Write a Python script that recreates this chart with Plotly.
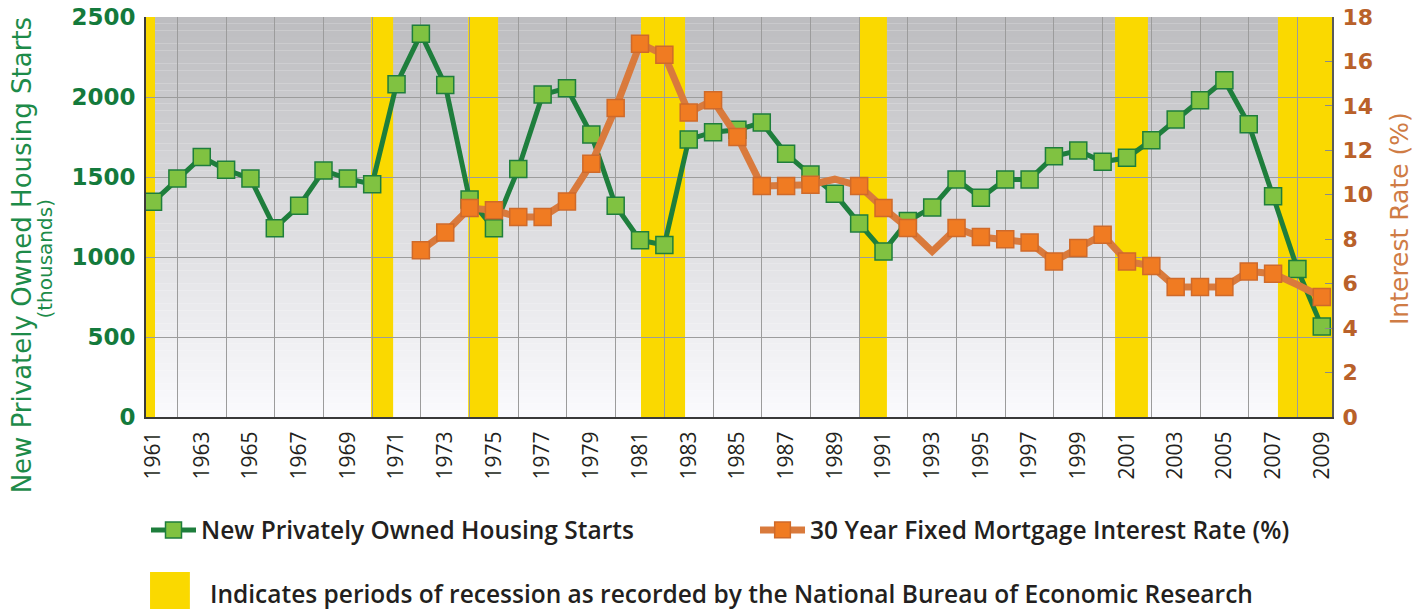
import plotly.graph_objects as go

# data
years = list(range(1961, 2010))
housing_starts = [1345, 1490, 1625, 1545, 1490, 1180, 1320, 1540, 1490, 1455,
                  2080, 2395, 2075, 1360, 1180, 1550, 2015, 2055, 1765, 1320,
                  1105, 1075, 1735, 1780, 1795, 1840, 1645, 1515, 1395, 1210,
                  1035, 1225, 1310, 1485, 1370, 1485, 1485, 1630, 1665, 1595,
                  1620, 1730, 1860, 1980, 2105, 1830, 1380, 925, 565]

rate_years = list(range(1972, 2010))
mortgage_rate = [7.5, 8.3, 9.4, 9.3, 9.0, 9.0, 9.7, 11.4, 13.9, 16.8,
                 16.3, 13.7, 14.25, 12.6, 10.4, 10.4, 10.45, 10.7, 10.4, 9.4,
                 8.5, 7.45, 8.5, 8.1, 8.0, 7.85, 7.0, 7.6, 8.2, 7.0,
                 6.8, 5.85, 5.85, 5.85, 6.55, 6.45, 5.95, 5.4]
rate_unmarked = [1989, 1993, 2008]

recession_start = [1960.71, 1969.95, 1973.94, 1981.04, 1990.03, 2000.51, 2007.2]
recession_end = [1961.08, 1970.86, 1975.17, 1982.85, 1991.14, 2001.86, 2009.42]

tick_years = list(range(1961, 2010, 2))
grid_years = list(range(1962, 2009, 2))

X_RANGE = [1960.71, 2009.42]
GREEN = "#1e7e3c"
ORANGE = "#d97a3c"
YELLOW = "#fad900"

legend_font = dict(family="Open Sans", size=24.5, color="#231f20", weight=600)

fig = go.Figure()

fig.add_trace(go.Scatter(
    x=years, y=housing_starts, name="New Privately Owned Housing Starts",
    mode="lines+markers", legend="legend",
    line=dict(color=GREEN, width=5),
    marker=dict(symbol="square", size=17, color="#80c241", opacity=1,
                line=dict(color=GREEN, width=1.5)),
))

fig.add_trace(go.Scatter(
    x=rate_years, y=mortgage_rate, name="30 Year Fixed Mortgage Interest Rate (%)",
    yaxis="y2", mode="lines+markers", legend="legend2",
    line=dict(color=ORANGE, width=7),
    marker=dict(symbol="square", color="#f07b22", opacity=1,
                size=[0 if yr in rate_unmarked else 17 for yr in rate_years],
                line=dict(color="#cf6a2a", width=1.5)),
))

# vertical gradient background in the plot area
shapes = []
n = 60
for i in range(n):
    t = i / (n - 1)
    c = int(251 - (251 - 189) * t)
    shapes.append(dict(type="rect", xref="paper", yref="y", x0=0, x1=1,
                       y0=2500 * i / n, y1=2500 * (i + 1) / n,
                       fillcolor=f"rgb({c},{c},{min(c + 3, 255)})",
                       line=dict(width=0), layer="below"))

for s, e in zip(recession_start, recession_end):
    shapes.append(dict(type="rect", xref="x", yref="paper", x0=s, x1=e, y0=0, y1=1,
                       fillcolor=YELLOW, line=dict(width=0), layer="below"))

# recession legend swatch
shapes.append(dict(type="rect", xref="paper", yref="paper", x0=0.0034, x1=0.037,
                   y0=-0.48, y1=-0.3875, fillcolor=YELLOW, line=dict(width=0)))

annotations = [
    dict(text="New Privately Owned Housing Starts", xref="paper", yref="paper",
         x=-0.1046, y=0.404, textangle=-90, showarrow=False,
         xanchor="center", yanchor="middle",
         font=dict(family="DejaVu Sans", size=26, color="#1d8b49")),
    dict(text="(thousands)", xref="paper", yref="paper",
         x=-0.0852, y=0.396, textangle=-90, showarrow=False,
         xanchor="center", yanchor="middle",
         font=dict(family="DejaVu Sans", size=20, color="#1d8b49")),
    dict(text="Interest Rate (%)", xref="paper", yref="paper",
         x=1.0565, y=0.495, textangle=-90, showarrow=False,
         xanchor="center", yanchor="middle",
         font=dict(family="DejaVu Sans", size=25, color="#cf7c45")),
    dict(text="Indicates periods of recession as recorded by the National Bureau of Economic Research",
         xref="paper", yref="paper", x=0.0523, y=-0.44, showarrow=False,
         xanchor="left", yanchor="middle", font=legend_font),
]

fig.update_layout(
    width=1414, height=609,
    margin=dict(l=146, r=82, t=17, b=192, autoexpand=False),
    paper_bgcolor="white", plot_bgcolor="white",
    shapes=shapes, annotations=annotations,
    showlegend=True,
    legend=dict(orientation="h", x=0.0, y=-0.2825, xanchor="left", yanchor="middle",
                font=legend_font, itemwidth=45, bgcolor="rgba(0,0,0,0)"),
    legend2=dict(orientation="h", x=0.5135, y=-0.2825, xanchor="left", yanchor="middle",
                 font=legend_font, itemwidth=45, bgcolor="rgba(0,0,0,0)"),
    xaxis=dict(
        range=X_RANGE, tickmode="array", tickvals=tick_years,
        ticktext=[str(y) for y in tick_years], tickangle=-90,
        tickfont=dict(family="Open Sans", size=21, color="#231f20"),
        showgrid=False, ticks="", showline=True, linecolor="#3a3a3a", linewidth=2,
        minor=dict(tickvals=grid_years, showgrid=True, gridcolor="#9c9c9c",
                   gridwidth=1, ticks=""),
        zeroline=False, ticklabelstandoff=4,
    ),
    yaxis=dict(
        range=[0, 2500], dtick=500, showgrid=True, gridcolor="#9c9c9c", gridwidth=1,
        tickfont=dict(family="DejaVu Sans", size=23, color="#147a3c", weight="bold"),
        showline=True, linecolor="#3a3a3a", linewidth=2, zeroline=False,
        ticks="", ticklabelstandoff=4, ticklabeloverflow="allow",
    ),
    yaxis2=dict(
        range=[0, 18], dtick=2, overlaying="y", side="right", showgrid=False,
        tickfont=dict(family="DejaVu Sans", size=22, color="#b9612a", weight="bold"),
        showline=True, linecolor="#5a5a5a", linewidth=2, zeroline=False,
        ticks="inside", ticklen=7, tickcolor="#8a8a8a", ticklabelstandoff=4,
        ticklabeloverflow="allow",
    ),
)

# drop the default 8px page margin so the figure fills the window exactly
fig.write_html("out.html", config={"displayModeBar": False},
               post_script="document.body.style.margin='0';")
